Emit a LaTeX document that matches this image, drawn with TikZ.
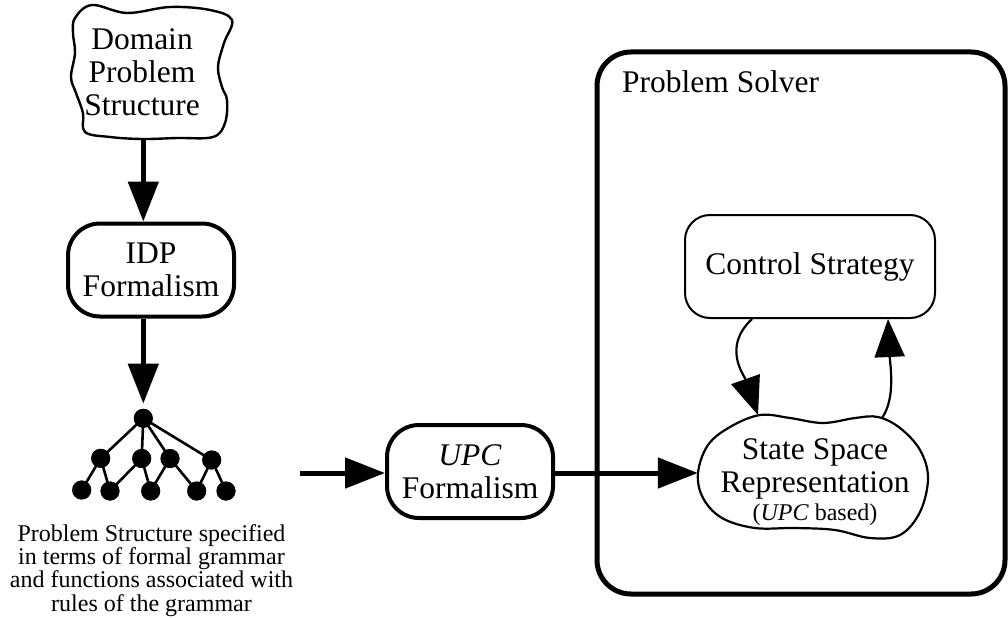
\documentclass[tikz,border=0pt]{standalone}
\usepackage{fontspec}
\setmainfont{Liberation Serif}
\usetikzlibrary{arrows.meta}
\begin{document}
\begin{tikzpicture}[x=1pt,y=-1pt,
  txt/.style={font=\fontsize{31.5}{33}\selectfont, align=center, inner sep=0pt},
  boldbox/.style={txt, draw, line width=4pt, rounded corners=32pt},
  thickarrow/.style={line width=5pt, -{Triangle[length=40pt,width=30pt]}},
  thinarrow/.style={line width=2.2pt, -{Triangle[length=38pt,width=30pt]}},
  dot/.style={circle, fill=black, inner sep=0pt, minimum size=19pt},
  treeedge/.style={line width=2.6pt},
  cloudline/.style={line width=2.4pt, line join=round}
]
\useasboundingbox (0,0) rectangle (1008,618);

% domain problem structure (cloud)
\node[txt, minimum width=150pt, minimum height=136pt] (dps) at (142,72) {Domain\\Problem\\Structure};
\draw[cloudline] plot[smooth cycle, tension=0.6] coordinates {
  (92,5) (127,13) (170,7) (210,10) (232,20) (224,43) (218,67) (222,87)
  (227,100) (225,123) (213,137) (177,138) (142,139) (110,137) (85,132)
  (83,113) (76,93) (71,77) (75,53) (73,33) (75,18)};

% IDP formalism
\node[boldbox, minimum width=166pt, minimum height=93pt] (idp) at (151,270) {IDP\\Formalism};

% grammar tree
\node[dot] (r0) at (143.3,418.3) {};
\node[dot] (ta) at (100.7,458.3) {};
\node[dot] (tb) at (141.7,458.5) {};
\node[dot] (tc) at (170,458.5) {};
\node[dot] (td) at (211.7,460) {};
\node[dot] (l1) at (81.7,490) {};
\node[dot] (l2) at (110,491) {};
\node[dot] (l3) at (150.7,491) {};
\node[dot] (l4) at (196.7,491) {};
\node[dot] (l5) at (226,491) {};
\foreach \u/\v in {r0/ta,r0/tb,r0/tc,r0/td,ta/l1,ta/l2,tb/l2,tb/l3,tc/l3,tc/l4,td/l4,td/l5}
  \draw[treeedge] (\u.center) -- (\v.center);
\foreach \n in {r0,ta,tb,tc,td,l1,l2,l3,l4,l5} \fill (\n) circle (9.5pt);

\node[font=\fontsize{24}{23.3}\selectfont, align=center, inner sep=0pt, anchor=north] (cap) at (151.5,524)
  {Problem Structure specified\\in terms of formal grammar\\and functions associated with\\rules of the grammar};

% UPC formalism
\node[boldbox, minimum width=166pt, minimum height=93pt] (upc) at (470,471.5) {\textit{UPC}\\Formalism};

% problem solver
\node[draw, line width=5pt, rounded corners=34pt, minimum width=408pt, minimum height=542pt] (ps) at (801,323) {};
\node[txt, anchor=base west] (pstitle) at (622,92) {Problem Solver};

\node[txt, draw, line width=2pt, rounded corners=25pt, minimum width=250pt, minimum height=103pt] (cs) at (810,266.5) {Control Strategy};

% state space representation (cloud)
\node[txt, minimum width=234pt, minimum height=120pt] (ss) at (815,482)
  {State Space\\Representation\\[-5pt]{\fontsize{24}{25}\selectfont(\textit{UPC} based)}};
\draw[cloudline, line width=2.2pt] plot[smooth cycle, tension=0.6] coordinates {
  (698,473) (708,445) (730,427) (760,415) (790,418) (823,423) (855,418)
  (878,417) (900,428) (920,450) (928,478) (920,512) (900,535) (870,538)
  (835,530) (795,528) (755,528) (722,518) (703,498)};
\coordinate (ssin) at (758,415);
\coordinate (ssout) at (882,418);
\coordinate (treeout) at (300,473);

% connectors
\draw[thickarrow] (dps.south -| r0) -- (idp.north -| r0);
\draw[thickarrow, shorten >=5pt] (idp.south -| r0) -- (r0.north);
\draw[thickarrow] (treeout) -- (treeout -| upc.west);
\draw[thickarrow] (upc.east |- treeout) -- (treeout -| ss.west);
\draw[thinarrow] ([xshift=-58pt]cs.south) .. controls +(-30,28) and +(-14,-40) .. (ssin);
\draw[thinarrow] (ssout) .. controls +(14,-20) and +(2,45) .. ([xshift=78pt]cs.south);
\end{tikzpicture}
\end{document}
